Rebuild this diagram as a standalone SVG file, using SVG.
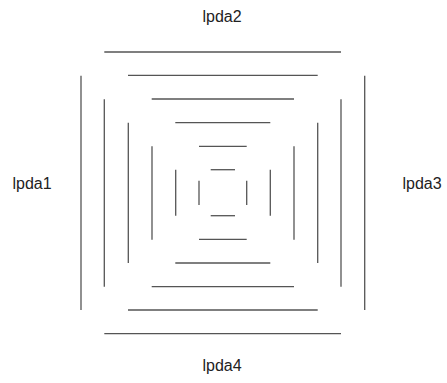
<svg xmlns="http://www.w3.org/2000/svg" width="447" height="383" viewBox="0 0 447 383">
<style>
.c line{stroke:#555;stroke-width:1.3;fill:none}
text{font-family:"Liberation Sans",Arial,sans-serif;font-size:16px;fill:#222;text-anchor:middle}
</style>
<rect width="447" height="383" fill="#fff"/>
<g id="connectors" class="c">
<line x1="104.3" y1="52" x2="341" y2="52"/>
<line x1="128" y1="75.3" x2="317.7" y2="75.3"/>
<line x1="151.7" y1="99" x2="294" y2="99"/>
<line x1="175.3" y1="122.7" x2="270.3" y2="122.7"/>
<line x1="199" y1="146.3" x2="246.7" y2="146.3"/>
<line x1="210.7" y1="169.7" x2="235" y2="169.7"/>
<line x1="104.3" y1="333.7" x2="341" y2="333.7"/>
<line x1="128" y1="310" x2="317.7" y2="310"/>
<line x1="151.7" y1="286.7" x2="294" y2="286.7"/>
<line x1="175.3" y1="263" x2="270.3" y2="263"/>
<line x1="199" y1="239.3" x2="246.7" y2="239.3"/>
<line x1="210.7" y1="215.7" x2="235" y2="215.7"/>
<line x1="81" y1="75.7" x2="81" y2="310"/>
<line x1="104.3" y1="99.3" x2="104.3" y2="286.7"/>
<line x1="128.3" y1="122.7" x2="128.3" y2="263"/>
<line x1="152" y1="146.3" x2="152" y2="239.7"/>
<line x1="175.7" y1="169.7" x2="175.7" y2="215.7"/>
<line x1="199" y1="180.7" x2="199" y2="205"/>
<line x1="364.7" y1="75.7" x2="364.7" y2="310"/>
<line x1="341" y1="99.3" x2="341" y2="286.7"/>
<line x1="317.7" y1="122.7" x2="317.7" y2="263"/>
<line x1="294" y1="146.3" x2="294" y2="239.7"/>
<line x1="270.3" y1="169.7" x2="270.3" y2="215.7"/>
<line x1="246.7" y1="180.7" x2="246.7" y2="205"/>
</g>
<g id="lpda1"><text x="32" y="189">lpda1</text></g>
<g id="lpda2"><text x="222" y="22">lpda2</text></g>
<g id="lpda3"><text x="422" y="189">lpda3</text></g>
<g id="lpda4"><text x="222" y="371">lpda4</text></g>
</svg>
